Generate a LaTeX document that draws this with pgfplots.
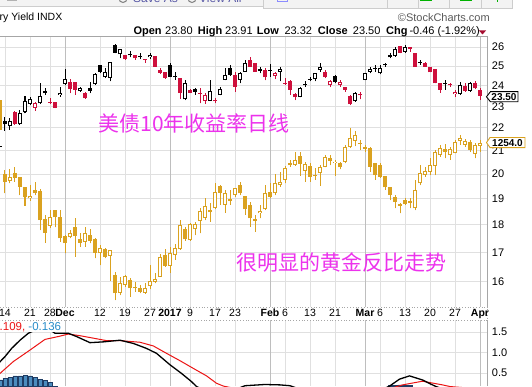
\documentclass[border=0pt]{standalone}
\usepackage{fontspec}
\setmainfont{Liberation Sans}
\newfontfamily\cjk{Noto Sans CJK SC}
\usepackage{pgfplots}
\usepackage{pgfplotstable}
\pgfplotsset{compat=1.18}

\definecolor{yred}{RGB}{206,16,60}
\definecolor{goldc}{RGB}{218,162,32}
\definecolor{mag}{RGB}{236,50,236}
\definecolor{gridc}{RGB}{224,224,224}
\definecolor{gridm}{RGB}{190,190,190}
\definecolor{histc}{RGB}{75,140,190}
\definecolor{histd}{RGB}{30,60,100}
\definecolor{macdred}{RGB}{235,20,20}
\definecolor{lblblue}{RGB}{40,140,200}
\definecolor{topbg}{RGB}{243,243,243}
\definecolor{topline}{RGB}{205,205,205}

% 10-year yield candles: i low bodylow bodyhigh high  c(0 black,1 red)  f(1 hollow)
\pgfplotstableread{
i lo bl bh hi c f
-1 20.59 21.13 21.18 21.46 0 0
0 21.87 22.16 22.31 22.48 0 0
1 21.90 22.08 22.31 22.44 0 1
2 22.14 22.16 22.75 22.78 1 0
3 22.14 22.16 22.70 22.83 0 1
4 22.67 22.72 23.27 23.50 0 1
5 23.06 23.10 23.33 23.47 0 1
6 22.80 22.91 23.14 23.22 1 1
7 23.12 23.14 23.50 24.12 0 1
8 23.55 23.63 23.74 23.87 0 0
9 23.10 23.17 23.22 23.38 1 0
10 22.91 22.94 23.19 23.20 1 0
11 23.46 23.55 23.66 23.96 0 1
12 24.04 24.08 24.33 24.82 0 1
13 23.63 23.82 24.16 24.33 1 0
14 23.55 23.79 24.16 24.16 1 0
15 23.71 23.76 23.88 23.96 0 1
16 23.35 23.38 23.66 23.69 1 0
17 23.63 23.76 23.88 24.16 0 0
18 24.04 24.08 24.57 24.62 0 1
19 24.62 24.71 25.05 25.05 0 0
20 24.38 24.43 24.71 24.88 0 1
21 24.21 24.38 25.19 25.19 0 1
22 25.66 25.69 26.11 26.16 0 0
23 25.40 25.61 25.88 25.88 0 1
24 25.31 25.34 25.57 25.57 1 0
25 25.45 25.55 25.60 25.78 0 0
26 25.31 25.40 25.57 25.57 1 0
27 25.35 25.46 25.51 25.66 0 0
28 25.16 25.32 25.37 25.37 1 0
29 25.35 25.45 25.57 25.66 0 1
30 24.96 24.96 25.53 25.53 1 0
31 24.59 24.65 24.79 24.88 1 0
32 24.35 24.38 24.67 24.68 1 0
33 24.43 24.46 25.05 25.14 0 0
34 24.29 24.43 24.48 24.71 0 0
35 23.35 23.63 24.38 24.39 1 0
36 23.30 23.33 24.12 24.29 0 1
37 23.63 23.66 23.79 23.83 1 0
38 23.55 23.71 23.83 23.87 0 0
39 23.14 23.61 23.66 23.87 1 0
40 23.12 23.27 23.55 23.63 1 1
41 23.27 23.27 23.74 24.26 0 1
42 23.14 23.23 23.28 23.38 1 0
43 23.52 23.55 23.83 23.96 0 1
44 24.26 24.29 24.54 24.88 0 1
45 24.49 24.54 24.88 25.05 0 0
46 23.71 23.96 24.54 24.71 1 0
47 24.12 24.29 24.65 24.71 0 1
48 24.71 24.71 25.14 25.31 0 1
49 24.96 24.96 25.31 25.48 1 0
50 24.69 24.71 25.14 25.15 1 0
51 24.62 24.74 24.82 24.96 0 0
52 24.26 24.43 24.79 24.88 1 0
53 24.46 24.73 24.78 25.10 0 0
54 24.33 24.49 24.62 24.71 1 1
55 24.21 24.71 24.82 24.96 0 1
56 24.04 24.09 24.14 24.38 1 0
57 23.55 23.79 24.21 24.29 1 0
58 23.30 23.44 23.60 23.66 1 0
59 23.43 23.44 23.87 23.94 0 1
60 23.96 24.01 24.06 24.21 0 0
61 24.21 24.30 24.35 24.46 0 0
62 24.21 24.33 24.62 24.65 0 1
63 24.71 24.78 24.95 25.14 0 1
64 24.38 24.43 24.71 24.79 1 0
65 23.93 24.01 24.21 24.29 1 1
66 24.12 24.18 24.49 24.54 0 0
67 23.96 24.04 24.16 24.29 1 1
68 23.71 23.79 23.92 23.92 1 0
69 23.06 23.10 23.50 23.55 1 0
70 23.22 23.25 23.63 23.71 0 1
71 23.33 23.52 23.57 23.68 1 0
72 24.26 24.29 24.62 24.65 0 1
73 24.62 24.71 24.82 24.96 0 1
74 24.71 24.86 24.91 25.05 0 0
75 24.57 24.62 24.88 25.05 0 1
76 24.96 25.03 25.08 25.14 0 0
77 25.40 25.45 25.57 25.66 0 0
78 25.48 25.52 25.88 26.02 0 1
79 25.66 25.69 26.05 26.05 1 0
80 25.69 25.75 26.02 26.11 0 1
81 25.75 25.88 26.02 26.02 1 0
82 24.96 24.96 25.69 25.69 1 0
83 25.05 25.14 25.19 25.31 0 0
84 24.95 24.96 25.14 25.22 1 0
85 24.67 24.67 24.96 24.96 1 0
86 24.12 24.12 24.82 24.82 1 0
87 23.66 23.79 24.12 24.12 1 0
88 23.79 24.09 24.14 24.29 0 0
89 23.96 24.01 24.06 24.12 1 0
90 23.47 23.58 23.71 23.79 1 1
91 23.55 23.60 24.04 24.16 0 1
92 23.71 23.76 23.99 24.12 1 0
93 23.71 23.76 24.12 24.16 0 1
94 23.83 23.87 24.12 24.21 1 0
95 23.32 23.50 23.80 23.91 1 0
}\yield

% Gold candles: i low bodylow bodyhigh high f(1 hollow)
\pgfplotstableread{
i lo bl bh hi f
-1 1265.0 1265.0 1290.5 1290.5 0
0 1211.3 1221.1 1227.7 1231.1 0
1 1219.8 1222.0 1224.9 1231.7 1
2 1221.1 1224.0 1228.3 1233.4 0
3 1209.8 1216.9 1224.9 1224.9 0
4 1200.8 1208.4 1216.4 1216.4 0
5 1205.0 1207.0 1209.2 1218.3 1
6 1209.8 1211.3 1214.1 1221.1 0
7 1180.1 1188.6 1213.2 1214.7 0
8 1169.4 1177.8 1189.2 1192.9 0
9 1182.1 1183.5 1190.9 1197.1 1
10 1182.4 1190.9 1197.1 1197.1 0
11 1170.2 1173.1 1190.9 1197.1 0
12 1160.3 1168.8 1175.0 1175.9 0
13 1173.1 1173.9 1177.3 1180.1 1
14 1157.5 1175.0 1182.4 1190.1 0
15 1165.9 1169.4 1172.2 1177.3 0
16 1165.9 1170.2 1177.3 1182.4 1
17 1168.8 1171.0 1175.9 1180.7 0
18 1156.1 1160.9 1172.2 1173.1 0
19 1150.4 1160.3 1164.6 1167.4 1
20 1156.1 1157.5 1163.7 1164.6 0
21 1137.1 1158.3 1163.2 1163.2 1
22 1120.7 1126.4 1141.9 1144.7 0
23 1124.9 1126.9 1134.9 1140.5 1
24 1132.0 1133.4 1141.1 1141.9 1
25 1123.5 1130.6 1137.7 1139.1 0
26 1127.8 1130.6 1132.0 1136.2 0
27 1126.4 1127.8 1130.6 1133.4 0
28 1126.0 1126.9 1130.6 1134.9 1
29 1129.8 1132.6 1136.8 1150.4 1
30 1134.9 1136.2 1138.3 1143.4 1
31 1140.5 1140.5 1157.0 1159.8 1
32 1149.0 1149.8 1158.9 1164.0 0
33 1143.9 1149.8 1160.9 1165.4 1
34 1154.7 1158.9 1164.6 1168.2 1
35 1163.2 1164.0 1184.4 1188.6 1
36 1171.0 1172.2 1180.7 1182.4 0
37 1171.0 1171.6 1185.2 1185.8 1
38 1175.9 1180.7 1185.2 1187.2 1
39 1177.3 1188.0 1196.5 1198.5 1
40 1188.6 1190.6 1200.5 1207.0 1
41 1187.2 1195.2 1196.7 1202.8 0
42 1197.7 1198.5 1212.7 1219.8 1
43 1201.4 1211.8 1217.5 1218.3 0
44 1194.8 1201.4 1211.3 1214.1 1
45 1201.4 1204.9 1206.3 1214.1 0
46 1208.4 1209.8 1215.5 1215.5 1
47 1209.8 1211.3 1218.3 1221.1 0
48 1192.9 1197.7 1209.0 1209.0 0
49 1182.9 1190.1 1201.4 1204.1 0
50 1178.7 1187.9 1189.3 1192.9 0
51 1190.1 1194.3 1196.3 1201.4 1
52 1197.1 1197.7 1211.3 1218.3 1
53 1207.0 1208.4 1212.7 1219.8 0
54 1209.8 1211.3 1219.8 1227.7 1
55 1216.9 1218.3 1221.1 1229.6 1
56 1219.8 1222.6 1232.5 1234.5 1
57 1233.9 1235.3 1237.3 1239.6 0
58 1234.5 1235.3 1239.6 1246.6 1
59 1226.0 1236.2 1243.0 1246.6 0
60 1221.1 1230.5 1236.2 1238.1 1
61 1221.1 1225.4 1234.5 1236.8 0
62 1222.6 1226.0 1226.8 1232.5 0
63 1217.5 1228.8 1233.9 1235.3 1
64 1233.4 1233.9 1242.4 1243.8 1
65 1235.3 1239.0 1241.0 1243.8 0
66 1226.0 1236.8 1238.1 1239.6 1
67 1231.7 1233.4 1236.8 1238.1 0
68 1237.0 1238.1 1250.6 1252.3 1
69 1249.8 1250.6 1258.2 1266.7 1
70 1251.4 1255.7 1260.4 1264.2 1
71 1248.1 1253.1 1254.4 1256.5 0
72 1246.4 1248.9 1250.6 1252.3 0
73 1229.4 1233.9 1249.7 1250.6 0
74 1222.6 1226.8 1236.8 1236.8 0
75 1224.3 1225.4 1235.3 1237.0 0
76 1214.1 1216.4 1226.0 1226.0 0
77 1205.6 1209.8 1216.4 1216.4 0
78 1198.5 1204.2 1208.4 1209.8 0
79 1194.3 1200.7 1202.1 1202.8 0
80 1201.4 1202.2 1205.6 1207.0 0
81 1198.5 1203.3 1205.0 1207.0 0
82 1197.1 1198.5 1214.1 1222.6 1
83 1218.3 1219.8 1228.3 1235.3 1
84 1225.4 1226.8 1230.5 1233.9 1
85 1226.8 1229.6 1235.3 1241.0 1
86 1226.8 1234.5 1246.6 1248.1 1
87 1242.4 1243.8 1249.5 1252.3 1
88 1241.0 1246.6 1248.6 1253.1 0
89 1239.6 1243.8 1248.6 1250.8 1
90 1245.3 1245.3 1255.1 1256.5 1
91 1252.3 1256.0 1258.0 1260.8 1
92 1250.9 1252.3 1256.0 1257.1 1
93 1246.6 1248.1 1255.1 1256.5 0
94 1241.0 1244.7 1252.3 1253.7 1
95 1246.6 1251.4 1254.0 1256.5 1
}\gold

\pgfplotsset{
  panelpos/.style={anchor=south west, scale only axis, width=489.7pt,
    xmin=-1.4, xmax=96.54, clip=true},
  nomark/.style={only marks, mark=*, mark size=0pt, mark options={draw=none, fill=none}},
  cbar/.style 2 args={nomark,
    error bars/y dir=plus, error bars/y explicit, error bars/error mark=none,
    error bars/error bar style={draw=#1, line width=#2}},
  hbar/.style={nomark,
    error bars/y dir=plus, error bars/y explicit, error bars/error mark=none,
    error bars/error bar style={draw=white, line width=2pt, shorten <=1pt, shorten >=1pt}},
  wick/.style={table/x=i, table/y=lo, table/y error plus expr=\thisrow{hi}-\thisrow{lo}},
  body/.style={table/x=i, table/y=bl, table/y error plus expr=\thisrow{bh}-\thisrow{bl}},
  xgrid/.style={
    xtick={0,5,9,19,24,29,37,42,46,56,61,66,75,80,85,90},
    extra x ticks={12,33,53,72,95},
    extra x tick style={major grid style={draw=gridm, line width=1pt}},
    tick style={draw=none}, major tick length=0pt,
    grid=major, major grid style={draw=gridc, line width=0.8pt},
    axis line style={draw=none}},
}

\begin{document}
\begin{tikzpicture}[x=1pt,y=1pt]
\useasboundingbox (0,0) rectangle (532,386);

% ---------- main panel : yield ----------
\begin{axis}[panelpos, at={(-2pt,79pt)}, height=270.3pt,
  ymode=log, ymin=15.19, ymax=26.56, xgrid,
  xticklabels={14,21,28,12,19,27,9,17,23,6,13,21,6,13,20,27},
  extra x tick labels={\textbf{Dec},\textbf{2017},\textbf{Feb},\textbf{Mar},\textbf{Apr}},
  xticklabel style={font=\fontsize{10.5}{10.5}\selectfont, anchor=base, yshift=-10pt},
  ytick={16,17,18,19,20,21,22,23,24,25,26},
  yticklabels={16,17,18,19,20,21,22,23,24,25,26},
  yticklabel pos=right,
  yticklabel style={font=\fontsize{11}{11}\selectfont, anchor=west, inner sep=0pt, xshift=4pt},
  /pgf/number format/assume math mode=true]
\addplot[cbar={black}{1pt}, wick, restrict expr to domain={\thisrow{c}}{0:0}] table {\yield};
\addplot[cbar={yred}{1pt}, wick, restrict expr to domain={\thisrow{c}}{1:1}] table {\yield};
\addplot[cbar={black}{4pt}, body, restrict expr to domain={\thisrow{c}}{0:0}] table {\yield};
\addplot[cbar={yred}{4pt}, body, restrict expr to domain={\thisrow{c}}{1:1}] table {\yield};
\addplot[hbar, body, restrict expr to domain={\thisrow{f}}{1:1}] table {\yield};
\end{axis}

% ---------- gold overlay ----------
\begin{axis}[panelpos, at={(-2pt,79pt)}, height=270.3pt,
  ymin=1114.8, ymax=1344.2, hide axis]
\addplot[cbar={goldc}{1pt}, wick] table {\gold};
\addplot[cbar={goldc}{4pt}, body] table {\gold};
\addplot[hbar, body, restrict expr to domain={\thisrow{f}}{1:1}] table {\gold};
\end{axis}

% ---------- MACD panel ----------
\begin{axis}[panelpos, at={(-2pt,0pt)}, height=66pt,
  ymin=0.183, ymax=1.793, xgrid, xticklabels={}, extra x tick labels={},
  ytick={0.5,1,1.5}, yticklabels={0.5,1.0,1.5}, yticklabel pos=right,
  yticklabel style={font=\fontsize{11}{11}\selectfont, anchor=west, inner sep=0pt, xshift=4pt}]
\addplot[ybar, bar width=4pt, fill=histc, draw=histd, line width=0.6pt] coordinates {
(-1,0.33) (0,0.37) (1,0.395) (2,0.43) (3,0.43) (4,0.435) (5,0.43) (6,0.395) (7,0.35) (8,0.31) (9,0.27) (10,0.15)
(77,0.19) (78,0.20) (79,0.21) (80,0.20) (81,0.19)};
\addplot[macdred, line width=1pt] coordinates {
(-1.4,0.45) (-1,0.49) (1.67,0.78) (5,1.06) (8,1.32) (10.67,1.39) (12.67,1.45) (15,1.41) (17.67,1.35) (20.3,1.29) (23,1.29) (27,1.25) (29.67,1.16) (32.3,0.98) (35,0.80) (37.7,0.61) (40.3,0.43) (42.3,0.25) (43.7,0.18) (47,0.10) (52,0.12) (58,0.14) (65,0.05) (72,0.00) (77,0.12) (79.5,0.21) (83.5,0.30) (87.5,0.21) (89,0.17) (95,0.11)};
\addplot[black, line width=1.3pt] coordinates {
(-1.4,0.70) (-1,0.776) (0,0.90) (1.33,1.10) (3,1.30) (4.67,1.47) (7,1.60) (9,1.55) (10,1.47) (12.67,1.47) (14.3,1.39) (17,1.24) (19.7,1.26) (23,1.30) (25.7,1.22) (28.3,1.10) (30.3,0.98) (33,0.70) (35.3,0.49) (37.3,0.29) (38.3,0.17) (41,0.02) (44,0.00) (48,0.19) (52,0.22) (55,0.21) (57,0.19) (60,0.06) (65,-0.05) (70,-0.10) (74,0.02) (76.9,0.18) (78.9,0.35) (80.9,0.43) (83.5,0.33) (85.5,0.21) (86.2,0.17) (89,0.05) (92,0.00) (95,-0.03)};
\end{axis}

% ---------- frames ----------
\draw[gray!70, line width=0.8pt] (0,349.3) -- (487.7,349.3) -- (487.7,79);
\draw[gray!70, line width=0.8pt] (487.7,66) -- (487.7,0);
\draw[gray!70, dotted, line width=0.8pt] (0,79) -- (487.7,79) -- (487.7,66) -- (0,66);

% ---------- texts ----------
\node[anchor=center, inner sep=0pt, text=mag, font=\cjk\fontsize{21}{21}\selectfont] at (194,263) {美债10年收益率日线};
\node[anchor=center, inner sep=0pt, text=mag, font=\cjk\fontsize{21}{21}\selectfont] at (341.5,123.5) {很明显的黄金反比走势};

\node[anchor=west, fill=white, inner sep=0.5pt, font=\fontsize{11.5}{11.5}\selectfont] at (-1,59) {\textcolor{macdred}{.109,} \textcolor{lblblue}{-0.136}};

% header
\node[anchor=base west, inner sep=0pt, font=\fontsize{10.5}{10.5}\selectfont] at (-0.5,365) {ry Yield INDX};
\node[anchor=base west, inner sep=0pt, text=black!65, font=\fontsize{11}{11}\selectfont] at (397.7,364.5) {©StockCharts.com};
\begin{scope}[font=\fontsize{11}{11}\selectfont]
\node[anchor=base west, inner sep=0pt] at (133.3,351) {\textbf{Open}};
\node[anchor=base west, inner sep=0pt] at (165,351) {23.80};
\node[anchor=base west, inner sep=0pt] at (197.7,351) {\textbf{High}};
\node[anchor=base west, inner sep=0pt] at (225,351) {23.91};
\node[anchor=base west, inner sep=0pt] at (256.7,351) {\textbf{Low}};
\node[anchor=base west, inner sep=0pt] at (284.3,351) {23.32};
\node[anchor=base west, inner sep=0pt] at (317.7,351) {\textbf{Close}};
\node[anchor=base west, inner sep=0pt] at (352.7,351) {23.50};
\node[anchor=base west, inner sep=0pt] at (386,351) {\textbf{Chg}};
\node[anchor=base west, inner sep=0pt] at (409.3,351) {-0.46 (-1.92\%)};
\end{scope}
\fill[yred!80!black] (479,355.5) -- (486,355.5) -- (482.5,351.5) -- cycle;

% price tags
\filldraw[fill=white, draw=black, line width=0.9pt] (486.5,289.2) -- (490.5,294.4) -- (518,294.4) -- (518,284.2) -- (490.5,284.2) -- cycle;
\node[inner sep=0pt, font=\fontsize{10}{10}\selectfont\bfseries] at (504,289.3) {23.50};
\filldraw[fill=white, draw=goldc, line width=0.9pt] (486.5,243.4) -- (490,248.5) -- (525,248.5) -- (525,238.4) -- (490,238.4) -- cycle;
\node[inner sep=0pt, font=\fontsize{10}{10}\selectfont\bfseries] at (507.5,243.4) {1254.0};

% browser strip
\fill[topbg] (0,379.3) rectangle (263,386);
\draw[topline] (0,379.3) -- (263,379.3);
\fill[topbg] (263,377.7) rectangle (512,386);
\draw[topline] (263,386) -- (263,377.7) -- (512,377.7) -- (512,386);
\foreach \xx in {387,418,449,481} \draw[topline] (\xx,377.7) -- (\xx,386);
\fill[green!70!black] (420,385) rectangle (432,386);
\fill[green!70!black] (460,385) rectangle (472,386);
\fill[green!70!black] (496.5,384.3) rectangle (497.7,386);
\draw[blue!45] (277,384.5) rectangle (287,388);
\draw[gray, line width=1pt] (123,387.5) circle (4);
\draw[gray, line width=1pt] (192,387.5) circle (4);
\node[anchor=base west, inner sep=0pt, text=blue!30!gray, font=\fontsize{12}{12}\selectfont] at (133,383.3) {Save As};
\node[anchor=base west, inner sep=0pt, text=blue!30!gray, font=\fontsize{12}{12}\selectfont] at (199,383.3) {View All};
\fill[gray!60] (7,385) rectangle (17,386);
\end{tikzpicture}
\end{document}
